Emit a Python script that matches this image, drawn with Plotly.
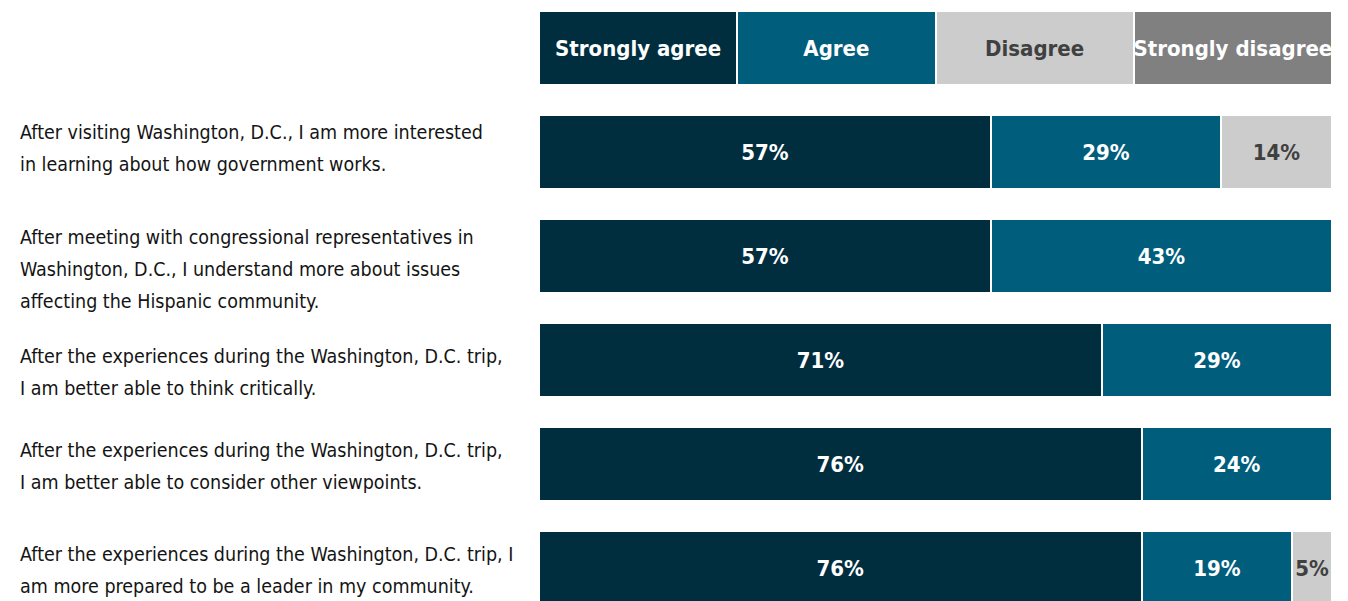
import plotly.graph_objects as go

# survey statements, one list of lines per statement
statements = [
    ["After visiting Washington, D.C., I am more interested",
     "in learning about how government works."],
    ["After meeting with congressional representatives in",
     "Washington, D.C., I understand more about issues",
     "affecting the Hispanic community."],
    ["After the experiences during the Washington, D.C. trip,",
     "I am better able to think critically."],
    ["After the experiences during the Washington, D.C. trip,",
     "I am better able to consider other viewpoints."],
    ["After the experiences during the Washington, D.C. trip, I",
     "am more prepared to be a leader in my community."],
]

responses = ["Strongly agree", "Agree", "Disagree", "Strongly disagree"]
strongly_agree = [57, 57, 71, 76, 76]
agree = [29, 43, 29, 24, 19]
disagree = [14, 0, 0, 0, 5]
strongly_disagree = [0, 0, 0, 0, 0]
header_share = [25, 25, 25, 25]

COLORS = ["#002e3f", "#005e7c", "#cccccc", "#808080"]
TEXT_COLORS = ["white", "white", "#404040", "white"]
FONT = "DejaVu Sans Condensed, Liberation Sans Narrow, Roboto Condensed, sans-serif"

# vertical nudge of each statement block, in pixels (down is positive)
LABEL_NUDGE_PX = [-4, 13, 12, 2, 2]
ROW_PX = 104

series = [strongly_agree, agree, disagree, strongly_disagree]
rows = list(range(1, len(statements) + 1))
bar_width = 74 / ROW_PX

fig = go.Figure()

# header row acting as the legend
for i, name in enumerate(responses):
    fig.add_trace(
        go.Bar(
            x=[header_share[i]],
            y=[0],
            orientation="h",
            width=bar_width,
            marker=dict(color=COLORS[i], line=dict(color="white", width=2)),
            text=[f"<b>{name}</b>"],
            textposition="inside",
            insidetextanchor="middle",
            textangle=0,
            textfont=dict(family=FONT, size=22, color=TEXT_COLORS[i]),
            hoverinfo="skip",
            showlegend=False,
        )
    )

for i, vals in enumerate(series):
    fig.add_trace(
        go.Bar(
            x=[v if v > 0 else None for v in vals],
            y=rows,
            orientation="h",
            width=bar_width,
            name=responses[i],
            marker=dict(color=COLORS[i], line=dict(color="white", width=2)),
            text=[f"<b>{v}%</b>" if v > 0 else "" for v in vals],
            textposition="inside",
            insidetextanchor="middle",
            textangle=0,
            textfont=dict(family=FONT, size=22, color=TEXT_COLORS[i]),
            showlegend=False,
        )
    )

# left-side statement labels, one annotation per line
line_step = 32 / ROW_PX
for r, lines, nudge in zip(rows, statements, LABEL_NUDGE_PX):
    n = len(lines)
    for j, line in enumerate(lines):
        fig.add_annotation(
            x=-0.657,
            xref="paper",
            y=r + (j - (n - 1) / 2) * line_step + nudge / ROW_PX,
            yref="y",
            text=line,
            showarrow=False,
            xanchor="left",
            yanchor="middle",
            align="left",
            font=dict(family=FONT, size=19.5, color="#141414"),
        )

fig.update_layout(
    barmode="stack",
    width=1348,
    height=601,
    margin=dict(l=531, r=24, t=0, b=0),
    plot_bgcolor="white",
    paper_bgcolor="white",
    uniformtext=dict(minsize=22, mode="show"),
    xaxis=dict(range=[0, 100], showgrid=False, zeroline=False,
               showticklabels=False, fixedrange=True),
    yaxis=dict(range=[5.394, -0.3846], showgrid=False, zeroline=False,
               showticklabels=False, fixedrange=True),
)

fig.write_html("out.html")
